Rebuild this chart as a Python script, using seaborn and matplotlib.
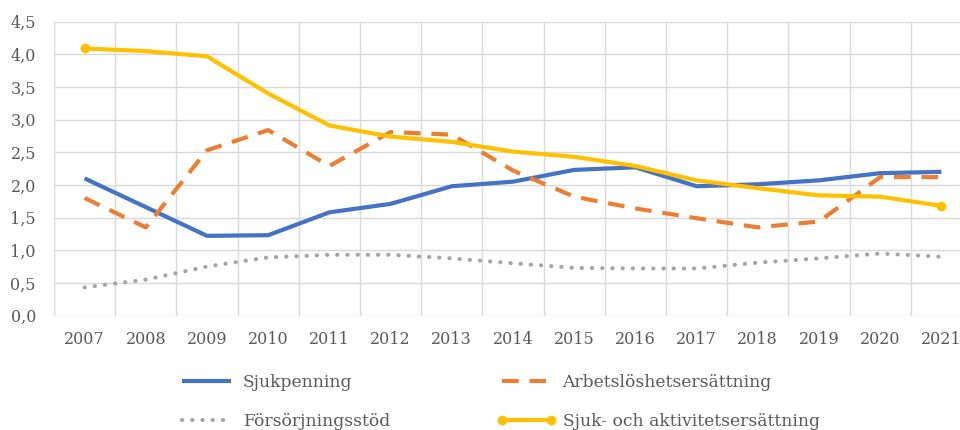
import matplotlib
matplotlib.use("Agg")
import matplotlib.pyplot as plt
import seaborn as sns
from matplotlib.ticker import FuncFormatter, MultipleLocator

years = list(range(2007, 2022))
sjukpenning = [2.10, 1.66, 1.22, 1.23, 1.58, 1.71, 1.98, 2.05, 2.23, 2.27, 1.98, 2.01, 2.07, 2.18, 2.20]
arbetsloshet = [1.80, 1.35, 2.53, 2.84, 2.29, 2.81, 2.77, 2.22, 1.82, 1.64, 1.49, 1.35, 1.44, 2.12, 2.12]
forsorjning = [0.43, 0.55, 0.75, 0.89, 0.93, 0.93, 0.875, 0.80, 0.73, 0.72, 0.72, 0.81, 0.875, 0.95, 0.90]
sjuk_aktivitet = [4.09, 4.05, 3.97, 3.40, 2.91, 2.74, 2.66, 2.51, 2.43, 2.29, 2.07, 1.95, 1.84, 1.82, 1.68]
labels = ["Sjukpenning", "Arbetslöshetsersättning", "Försörjningsstöd", "Sjuk- och aktivitetsersättning"]
colors = ["#4472C4", "#ED7D31", "#A5A5A5", "#FFC000"]

sns.set_theme(style="white")
plt.rcParams["font.family"] = ["DejaVu Serif"]
FS = 11.5
LFS = 12.3
TXT = "#595959"

fig = plt.figure(figsize=(9.6, 4.3), dpi=100)
ax = fig.add_axes([54/960, 1-315.5/430, 918/960, (315.5-21.7)/430])

lw = 3.0
sns.lineplot(x=years, y=sjukpenning, ax=ax, color=colors[0], lw=lw,
             solid_capstyle="butt", label=labels[0], legend=False)
sns.lineplot(x=years, y=arbetsloshet, ax=ax, color=colors[1], lw=lw,
             linestyle=(0, (4, 2.6)), dash_capstyle="butt", label=labels[1], legend=False)
sns.lineplot(x=years, y=forsorjning, ax=ax, color=colors[2], lw=lw,
             linestyle=(0, (0.05, 2.4)), dash_capstyle="round", label=labels[2], legend=False)
sns.lineplot(x=years, y=sjuk_aktivitet, ax=ax, color=colors[3], lw=lw,
             marker="o", markersize=7, markevery=[0, -1], markeredgewidth=0,
             solid_capstyle="butt", label=labels[3], legend=False)

ax.set_xlim(2006.5, 2021.5)
ax.set_ylim(0, 4.5)
ax.set_xticks(years)
ax.set_xticklabels([str(y) for y in years])
ax.xaxis.set_minor_locator(MultipleLocator(1, offset=0.5))
ax.yaxis.set_major_locator(MultipleLocator(0.5))
ax.yaxis.set_major_formatter(FuncFormatter(lambda v, p: f"{v:.1f}".replace(".", ",")))
ax.grid(False)
ax.grid(True, which="minor", axis="x", color="#D9D9D9", lw=1.0)
ax.grid(True, which="major", axis="y", color="#D9D9D9", lw=1.0)
ax.set_axisbelow(True)
for s in ax.spines.values():
    s.set_visible(False)
ax.tick_params(axis="both", which="both", length=0, labelsize=FS, labelcolor=TXT)
ax.tick_params(axis="x", pad=11.5)
ax.tick_params(axis="y", pad=13)
ax.set_xlabel("")
ax.set_ylabel("")

h, l = ax.get_legend_handles_labels()
order = [0, 2, 1, 3]
leg = fig.legend([h[i] for i in order], [l[i] for i in order], ncol=2,
                 loc="upper left", bbox_to_anchor=(177/960, 1-374/430),
                 frameon=False, fontsize=LFS, labelcolor=TXT, numpoints=2,
                 handlelength=3.45, handletextpad=0.4, columnspacing=6.25,
                 labelspacing=1.3, borderpad=0, borderaxespad=0)

fig.savefig("out.png", dpi=100)
